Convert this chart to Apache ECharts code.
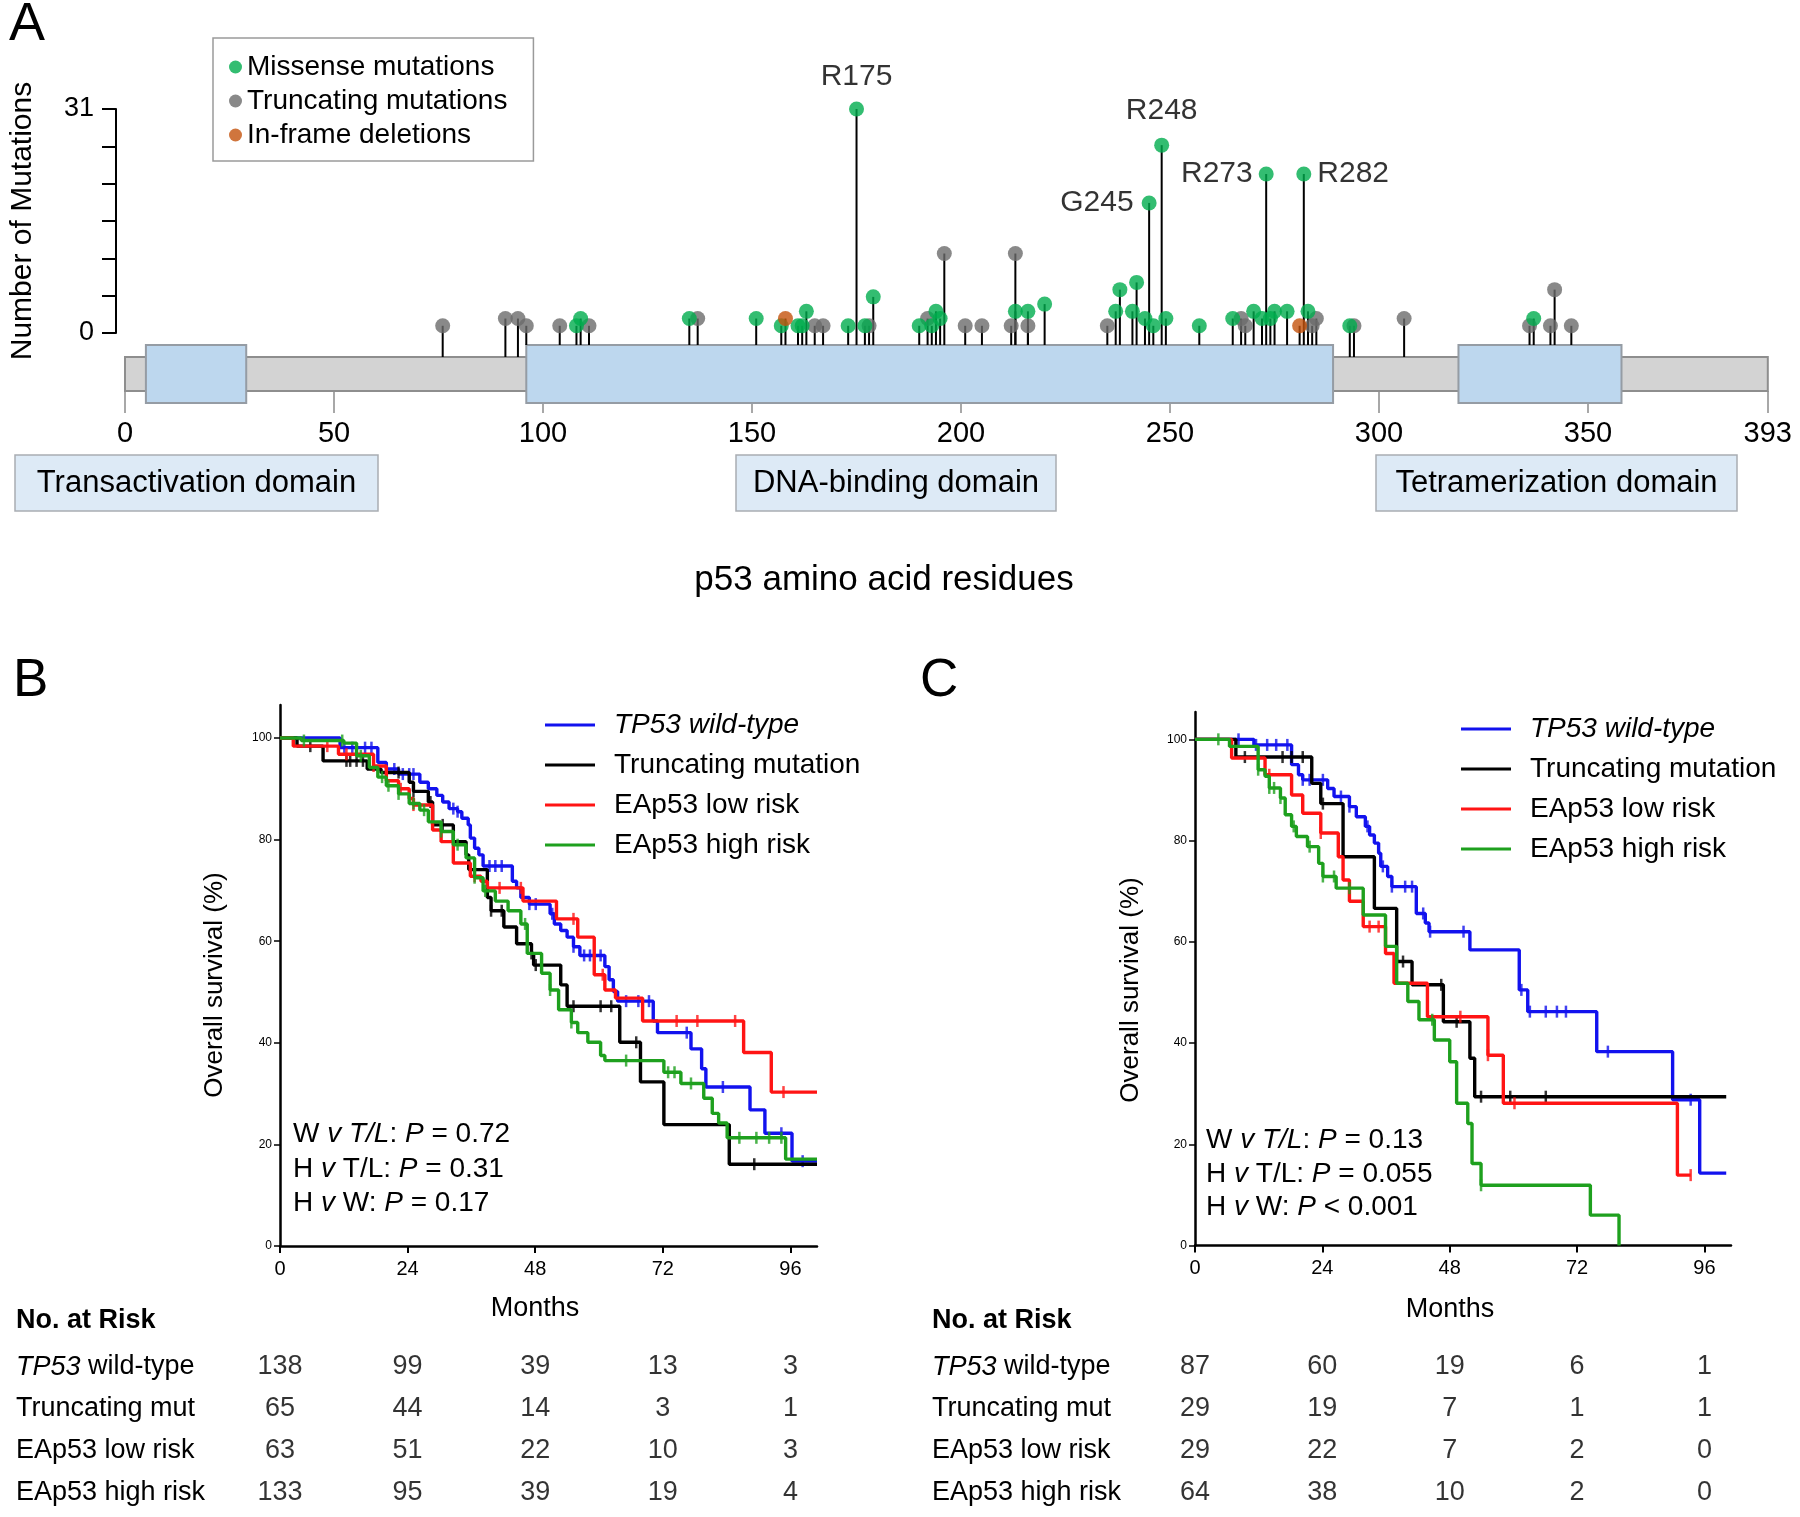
<!DOCTYPE html>
<html>
<head>
<meta charset="utf-8">
<title>TP53 mutations and overall survival</title>
<script src="https://cdn.jsdelivr.net/npm/echarts@6/dist/echarts.min.js"></script>
<style>
  html, body { margin: 0; padding: 0; background: #fff; }
  #chart { width: 1800px; height: 1517px; }
</style>
</head>
<body>
<div id="chart"></div>
<script>
// ---------- panel A: p53 lollipop ----------
const proteinLength = 393;
const domainStarts = [5, 96, 319];
const domainEnds = [29, 289, 358];
const residueTicks = [0, 50, 100, 150, 200, 250, 300, 350, 393];
const countTicks = [0, 31];

// [residue, number of mutations]
const missense = [
  [108, 1], [109, 2], [135, 2], [151, 2], [157, 1], [161, 1], [162, 1], [163, 3],
  [173, 1], [175, 31], [177, 1], [179, 5], [190, 1], [193, 1], [194, 3], [195, 2],
  [213, 3], [216, 3], [220, 4], [237, 3], [238, 6], [241, 3], [242, 7], [244, 2],
  [245, 18], [246, 1], [248, 26], [249, 2], [257, 1], [265, 2], [270, 3], [272, 2],
  [273, 22], [274, 2], [275, 3], [278, 3], [282, 22], [283, 3], [293, 1], [337, 2]
];
const truncating = [
  [76, 1], [91, 2], [94, 2], [96, 1], [104, 1], [111, 1], [137, 2], [165, 1],
  [167, 1], [178, 1], [192, 2], [196, 11], [201, 1], [205, 1], [212, 1], [213, 11],
  [216, 1], [235, 1], [267, 2], [268, 1], [284, 1], [285, 2], [294, 1], [306, 2],
  [336, 1], [341, 1], [342, 6], [346, 1]
];
const inframe = [[158, 2], [281, 1]];
const hotspotResidues = [175, 248, 245, 273, 282];
const hotspotNames = ['R175', 'R248', 'G245', 'R273', 'R282'];

// ---------- panels B and C: Kaplan-Meier ----------
const groupNames = ['TP53 wild-type', 'Truncating mutation', 'EAp53 low risk', 'EAp53 high risk'];
const monthTicks = [0, 24, 48, 72, 96];
const survTicks = [0, 20, 40, 60, 80, 100];

const bWildTime = [0, 11.3, 18.4, 20, 22.3, 26.3, 27.9, 29.5, 30.6, 31.8, 33.4, 34.2, 35.4, 35.8, 36.6, 37.4, 38.2, 43.7, 44.5, 45.3, 46.9, 50.8, 51.6, 52.8, 54, 55.2, 56.4, 61.1, 61.9, 62.7, 63.5, 70.2, 71, 77.3, 79.3, 80.1, 88.4, 91.2, 96.3, 101];
const bWildSurv = [100, 98.1, 95.2, 93.9, 92.9, 91.3, 90, 88.7, 87.4, 86.1, 85.5, 84.2, 82.9, 80.3, 78.3, 77, 74.8, 71.8, 70.5, 68.6, 67.3, 65.4, 63.4, 62.1, 60.8, 58.9, 57.2, 55, 52.4, 50.1, 48.2, 44.3, 42, 38.8, 34.9, 31.3, 26.8, 22.2, 16.7, 16.7];
const bWildCens = [12.1, 13.6, 16, 17.2, 21.5, 23.1, 24.3, 25.1, 32.6, 33.4, 39.4, 40.5, 41.7, 46.9, 48.1, 51.2, 55.2, 57.2, 58.3, 60.3, 65.1, 67.4, 69.4, 76.5, 83.3, 94.3, 98.3];

const bTruncTime = [0, 3.2, 8.1, 16.4, 19, 24.3, 25.1, 27.9, 28.7, 32.6, 35, 35.5, 39, 39.7, 42.1, 44.5, 47.3, 47.7, 52.8, 54, 63.9, 67.8, 72.2, 84.5, 101];
const bTruncSurv = [100, 98.4, 95.5, 93.9, 93.2, 91.3, 89.5, 87.4, 82.9, 79.6, 77, 74.1, 68.6, 66, 62.8, 59.5, 57.6, 55.3, 51.4, 47.2, 40.1, 32.3, 23.9, 16.1, 16.1];
const bTruncCens = [5.7, 12.5, 13.2, 14.4, 15.6, 22.3, 25.1, 28.3, 30.6, 39.7, 41.7, 47.3, 48.1, 55.2, 60.3, 62.3, 67, 89.2];

const bLowTime = [0, 2.5, 11, 17.6, 20, 22.3, 24.3, 25.1, 28.7, 30.3, 32.6, 35.8, 37.8, 39, 45.7, 52, 56, 59.1, 61.1, 63.1, 68.2, 87.2, 92.4, 101];
const bLowSurv = [100, 98.4, 96.8, 94.5, 91.6, 90, 88.1, 86.8, 81.9, 79.6, 75.4, 72.8, 71.8, 70.5, 67.9, 64.4, 60.8, 53.4, 50.4, 48.8, 44.3, 38.1, 30.3, 30.3];
const bLowCens = [8.9, 12.5, 17.6, 22.7, 25.1, 36.6, 41.3, 45.3, 55.2, 60.7, 74.6, 78.5, 85.6, 94.7];

const bHighTime = [0, 4, 12, 14.4, 16.8, 18.4, 20, 22.3, 24.3, 26.3, 27.9, 30.3, 32.6, 35, 36.6, 38.2, 40.5, 42.9, 45.3, 46.5, 49.2, 50.8, 52.4, 54.8, 56, 57.9, 60.3, 61.1, 72.2, 75.4, 79.7, 81.3, 82.5, 84.1, 95.1, 101];
const bHighSurv = [100, 99.5, 99, 96.5, 94.2, 92.3, 90.6, 89, 87.1, 85.8, 83.5, 81.6, 79, 76.4, 72.5, 69.9, 67.9, 66, 63.4, 57.6, 53.7, 50.4, 46.5, 44, 42, 40.1, 37.5, 36.5, 34.2, 32, 29.1, 26.1, 24.2, 21.3, 17.1, 17.1];
const bHighCens = [4.5, 11.7, 15.2, 19.2, 20.4, 22.3, 25.1, 27.1, 30.3, 33.4, 36.6, 38.6, 46.1, 50.8, 54.8, 65.1, 73, 74.2, 77.3, 86.4, 89.6, 92, 94.3];

const cWildTime = [0, 11.1, 18.2, 19.5, 20.3, 25, 26.2, 29.1, 30.4, 32.1, 32.9, 33.8, 34.6, 35, 36.3, 37.1, 41.7, 43.4, 44.1, 51.8, 61.1, 62.7, 75.7, 90, 95.1, 100.1];
const cWildSurv = [100, 98.9, 95, 93, 92, 90.3, 88.7, 86.7, 84.7, 82.8, 81.1, 79.5, 77.5, 74.9, 72.9, 70.9, 65.6, 63.7, 62, 58.4, 50.5, 46.2, 38.3, 28.8, 14.3, 14.3];
const cWildCens = [8.2, 11.5, 13.6, 15.3, 17.4, 20.3, 21.6, 24.1, 27.5, 29.1, 32.5, 35.4, 37.1, 39.6, 40.9, 43, 44.3, 50.6, 61.5, 63.1, 66.1, 68.2, 69.9, 77.8, 93.4];

const cTruncTime = [0, 7.7, 22, 23.7, 27.9, 33.8, 38, 40.9, 46.8, 51.8, 52.7, 100.1];
const cTruncSurv = [100, 96.5, 91.3, 87.3, 76.8, 66.6, 56.1, 51.5, 44.2, 37, 29.4, 29.4];
const cTruncCens = [9.4, 16.5, 18.2, 20.3, 24.1, 39.2, 46.4, 49.3, 53.9, 59.4, 66.1];

const cLowTime = [0, 6.9, 13.2, 18.2, 20.3, 23.7, 27, 27.9, 29.1, 31.7, 35.9, 37.5, 43.8, 55.2, 58.1, 90.9, 93.4];
const cLowSurv = [100, 96.3, 93, 89, 85.4, 81.5, 76.8, 72.2, 68, 63, 57.7, 51.8, 45.2, 37.6, 28.1, 13.9, 13.9];
const cLowCens = [14, 23.7, 32.9, 34.6, 50, 55.2, 60.2, 93.4];

const cHighTime = [0, 6.5, 11.9, 13.2, 14, 16.1, 17, 18.2, 19.1, 21.2, 23.3, 24.1, 26.6, 31.7, 35.9, 38, 40.1, 42.2, 45.1, 48, 49.3, 51.4, 52.2, 53.9, 74.5, 79.9];
const cHighSurv = [100, 98.6, 94, 92.7, 90.4, 88.4, 85.1, 82.8, 80.8, 78.8, 75.5, 72.9, 70.6, 65.3, 59.1, 51.8, 48.2, 44.6, 40.6, 36.3, 28.1, 24.1, 16.2, 11.9, 6, 0];
const cHighCens = [4.4, 11.9, 14, 14.9, 16.1, 18.6, 21.6, 24.1, 26.2, 29.1, 44.7, 53.9];

// ---------- numbers at risk ----------
const riskMonths = [0, 24, 48, 72, 96];
const riskGroups = ['TP53 wild-type', 'Truncating mut', 'EAp53 low risk', 'EAp53 high risk'];
const bRiskWild = [138, 99, 39, 13, 3];
const bRiskTrunc = [65, 44, 14, 3, 1];
const bRiskLow = [63, 51, 22, 10, 3];
const bRiskHigh = [133, 95, 39, 19, 4];
const cRiskWild = [87, 60, 19, 6, 1];
const cRiskTrunc = [29, 19, 7, 1, 1];
const cRiskLow = [29, 22, 7, 2, 0];
const cRiskHigh = [64, 38, 10, 2, 0];

// ---------- styling ----------
const FONT = '"Liberation Sans", Arial, Helvetica, sans-serif';
const BLUE = '#1212ee', RED = '#ff1414', GREEN = '#1ea01e', BLACK = '#000000';
const kmColors = [BLUE, BLACK, RED, GREEN];
const MISSENSE = '#00ad4e', TRUNC = '#6b6b6b', INFRAME = '#c4520c';

const chart = echarts.init(document.getElementById('chart'));

function inDomain(r) {
  return domainStarts.some((s, i) => r >= s && r <= domainEnds[i]);
}

function survAt(times, survs, t) {
  let s = survs[0];
  for (let i = 0; i < times.length; i++) if (times[i] <= t) s = survs[i];
  return s;
}

function kmSeries(grid, k, times, survs, cens) {
  const color = kmColors[k];
  return [
    {
      type: 'line', name: groupNames[k], xAxisIndex: grid, yAxisIndex: grid,
      step: 'end', showSymbol: false, symbol: 'none', clip: false, z: 3 + k,
      data: times.map((t, i) => [t, survs[i]]),
      lineStyle: { color, width: 3.4 }, itemStyle: { color }
    },
    {
      type: 'scatter', xAxisIndex: grid, yAxisIndex: grid, symbol: 'rect',
      symbolSize: [2.5, 12], z: 3 + k, silent: true,
      itemStyle: { color },
      data: cens.map(t => [t, survAt(times, survs, t)])
    }
  ];
}

function riskSeries(grid, rows) {
  const data = [];
  rows.forEach((row, r) => row.forEach((n, k) => data.push([riskMonths[k], r, n])));
  return {
    type: 'scatter', xAxisIndex: grid, yAxisIndex: grid, symbolSize: 1,
    itemStyle: { color: 'rgba(0,0,0,0)' }, silent: true,
    label: { show: true, position: 'inside', formatter: p => String(p.value[2]),
             fontSize: 27, fontFamily: FONT, color: '#000' },
    data
  };
}

const hotspotPlace = { R175: ['top', 10], R248: ['top', 12], G245: ['left', 8], R273: ['left', 6], R282: ['right', 6] };
const missenseData = missense.map(([r, c]) => {
  const k = hotspotResidues.indexOf(r);
  if (k < 0) return [r, c];
  const name = hotspotNames[k];
  return {
    value: [r, c],
    label: { show: true, formatter: name, position: hotspotPlace[name][0], distance: hotspotPlace[name][1],
             fontSize: 30, fontFamily: FONT, color: '#000' }
  };
});
const allMutations = truncating.concat(missense, inframe);

const kmGridB = { left: 280, top: 705, width: 537, height: 541 };
const kmGridC = { left: 1195, top: 712, width: 536, height: 533.5 };

function kmXAxis(g) {
  return {
    gridIndex: g, type: 'value', min: 0, max: 101,
    axisLine: { show: true, onZero: false, lineStyle: { color: '#000', width: 2.5 } },
    axisTick: { show: true, length: 7, customValues: monthTicks, lineStyle: { color: '#000', width: 2 } },
    axisLabel: { customValues: monthTicks, fontSize: 20, margin: 13, color: '#000', fontFamily: FONT },
    splitLine: { show: false }
  };
}
function kmYAxis(g, yMax) {
  return {
    gridIndex: g, type: 'value', min: 0, max: yMax,
    axisLine: { show: true, onZero: false, lineStyle: { color: '#000', width: 2.5 } },
    axisTick: { show: true, length: 6, customValues: survTicks, lineStyle: { color: '#000', width: 1.5 } },
    axisLabel: { customValues: survTicks, fontSize: 12, margin: 8, color: '#000', fontFamily: FONT },
    splitLine: { show: false }
  };
}
function riskXAxis(g) {
  return { gridIndex: g, type: 'value', min: 0, max: 101, show: false };
}
function riskYAxis(g, margin) {
  return {
    gridIndex: g, type: 'category', data: riskGroups, inverse: true,
    axisLine: { show: false }, axisTick: { show: false },
    axisLabel: {
      margin, align: 'left', fontSize: 27, color: '#000', fontFamily: FONT,
      formatter: v => v === 'TP53 wild-type' ? '{i|TP53} wild-type' : v,
      rich: { i: { fontStyle: 'italic', fontSize: 27, fontFamily: FONT, color: '#000' } }
    }
  };
}

function kmLegend(left, top) {
  return {
    orient: 'vertical', left, top, padding: 0, icon: 'rect', itemWidth: 50, itemHeight: 3, itemGap: 10,
    selectedMode: false, data: groupNames,
    formatter: n => n === 'TP53 wild-type' ? '{i|TP53 wild-type}' : n,
    textStyle: {
      fontSize: 28, lineHeight: 30, fontFamily: FONT, color: '#000', padding: [0, 0, 0, 14],
      rich: { i: { fontStyle: 'italic', fontSize: 28, fontFamily: FONT, color: '#000' } }
    }
  };
}

function txt(x, y, text, size, extra) {
  return { type: 'text', x, y, silent: true,
           style: Object.assign({ text, fontSize: size, fontFamily: FONT, fill: '#000',
                                  align: 'left', verticalAlign: 'middle' }, extra || {}) };
}
const pRich = {
  n: { fontSize: 28, fontFamily: FONT, fill: '#000' },
  i: { fontSize: 28, fontFamily: FONT, fill: '#000', fontStyle: 'italic' }
};
function pText(x, y, text) {
  return { type: 'text', x, y, silent: true,
           style: { text, rich: pRich, fontSize: 28, fontFamily: FONT, fill: '#000', verticalAlign: 'middle' } };
}
function domainBox(x, w, label) {
  return [
    { type: 'rect', silent: true, shape: { x, y: 455, width: w, height: 56 },
      style: { fill: '#ddeaf6', stroke: '#a9adb2', lineWidth: 1.5 } },
    txt(x + w / 2, 483, label, 31, { align: 'center' })
  ];
}

const option = {
  animation: false,
  backgroundColor: '#fff',
  textStyle: { fontFamily: FONT },
  grid: [
    { left: 122.8, top: 109, width: 1645, height: 224 },
    kmGridB,
    kmGridC,
    { left: 280, top: 1346, width: 537, height: 168 },
    { left: 1195, top: 1346, width: 536, height: 168 }
  ],
  legend: [
    {
      orient: 'vertical', left: 213, top: 38, icon: 'circle', itemWidth: 13, itemHeight: 13, itemGap: 0,
      padding: [12, 26, 9, 16], borderColor: '#9a9a9a', borderWidth: 1.5, selectedMode: false,
      data: ['Missense mutations', 'Truncating mutations', 'In-frame deletions'],
      textStyle: { fontSize: 28, lineHeight: 34, fontFamily: FONT, color: '#000' }
    },
    kmLegend(545, 710),
    kmLegend(1461, 714)
  ],
  xAxis: [
    {
      gridIndex: 0, type: 'value', min: 0, max: proteinLength, offset: 58,
      axisLine: { show: false, onZero: false },
      axisTick: { show: true, length: 22, customValues: residueTicks, lineStyle: { color: '#8c8c8c', width: 1.5 } },
      axisLabel: { customValues: residueTicks, fontSize: 29, margin: 28, color: '#000', fontFamily: FONT },
      splitLine: { show: false }
    },
    kmXAxis(1), kmXAxis(2), riskXAxis(3), riskXAxis(4)
  ],
  yAxis: [
    {
      gridIndex: 0, type: 'value', min: 0, max: 31, offset: 9,
      axisLine: { show: true, onZero: false, lineStyle: { color: '#000', width: 2 } },
      axisTick: { show: true, length: 14, customValues: [0, 1, 2, 3, 4, 5, 6].map(k => k * 31 / 6),
                  lineStyle: { color: '#000', width: 2 } },
      axisLabel: { customValues: countTicks, fontSize: 27, margin: 22, color: '#000', fontFamily: FONT },
      splitLine: { show: false },
      name: 'Number of Mutations', nameLocation: 'middle', nameGap: 78,
      nameTextStyle: { fontSize: 30, color: '#000', fontFamily: FONT }
    },
    kmYAxis(1, 106.5), kmYAxis(2, 105.4), riskYAxis(3, 264), riskYAxis(4, 263)
  ],
  series: [
    {
      type: 'custom', name: 'backbone', xAxisIndex: 0, yAxisIndex: 0, clip: false, silent: true, z: 1,
      data: [[0, proteinLength]],
      encode: { x: [0, 1] },
      renderItem: (params, api) => {
        const a = api.coord([api.value(0), 0]);
        const b = api.coord([api.value(1), 0]);
        return { type: 'rect', shape: { x: a[0], y: a[1] + 24, width: b[0] - a[0], height: 34 },
                 style: { fill: '#d3d3d3', stroke: '#8e8e8e', lineWidth: 2 } };
      }
    },
    {
      type: 'custom', name: 'domains', xAxisIndex: 0, yAxisIndex: 0, clip: false, silent: true, z: 2,
      data: domainStarts.map((s, i) => [s, domainEnds[i]]),
      encode: { x: [0, 1] },
      renderItem: (params, api) => {
        const a = api.coord([api.value(0), 0]);
        const b = api.coord([api.value(1), 0]);
        return { type: 'rect', shape: { x: a[0], y: a[1] + 12, width: b[0] - a[0], height: 58 },
                 style: { fill: '#bdd7ee', stroke: '#959ca4', lineWidth: 2 } };
      }
    },
    {
      type: 'custom', name: 'stems', xAxisIndex: 0, yAxisIndex: 0, clip: false, silent: true, z: 3,
      data: allMutations,
      renderItem: (params, api) => {
        const r = api.value(0);
        const top = api.coord([r, api.value(1)]);
        const base = api.coord([r, 0])[1] + (inDomain(r) ? 12 : 24);
        return { type: 'line', shape: { x1: top[0], y1: base, x2: top[0], y2: top[1] },
                 style: { stroke: '#000', lineWidth: 2 } };
      }
    },
    { type: 'scatter', name: 'Truncating mutations', xAxisIndex: 0, yAxisIndex: 0, symbolSize: 15, z: 4,
      itemStyle: { color: TRUNC }, data: truncating },
    { type: 'scatter', name: 'Missense mutations', xAxisIndex: 0, yAxisIndex: 0, symbolSize: 15, z: 5,
      itemStyle: { color: MISSENSE }, data: missenseData },
    { type: 'scatter', name: 'In-frame deletions', xAxisIndex: 0, yAxisIndex: 0, symbolSize: 15, z: 6,
      itemStyle: { color: INFRAME }, data: inframe },

    ...kmSeries(1, 0, bWildTime, bWildSurv, bWildCens),
    ...kmSeries(1, 1, bTruncTime, bTruncSurv, bTruncCens),
    ...kmSeries(1, 2, bLowTime, bLowSurv, bLowCens),
    ...kmSeries(1, 3, bHighTime, bHighSurv, bHighCens),
    ...kmSeries(2, 0, cWildTime, cWildSurv, cWildCens),
    ...kmSeries(2, 1, cTruncTime, cTruncSurv, cTruncCens),
    ...kmSeries(2, 2, cLowTime, cLowSurv, cLowCens),
    ...kmSeries(2, 3, cHighTime, cHighSurv, cHighCens),

    riskSeries(3, [bRiskWild, bRiskTrunc, bRiskLow, bRiskHigh]),
    riskSeries(4, [cRiskWild, cRiskTrunc, cRiskLow, cRiskHigh])
  ],
  graphic: {
    elements: [
      txt(9, 25, 'A', 54),
      txt(13, 681, 'B', 53),
      txt(920, 681, 'C', 53),
      ...domainBox(15, 363, 'Transactivation domain'),
      ...domainBox(736, 320, 'DNA-binding domain'),
      ...domainBox(1376, 361, 'Tetramerization domain'),
      txt(884, 580, 'p53 amino acid residues', 35, { align: 'center' }),

      Object.assign(txt(215, 985, 'Overall survival (%)', 26, { align: 'center' }), { rotation: Math.PI / 2 }),
      Object.assign(txt(1131, 990, 'Overall survival (%)', 26, { align: 'center' }), { rotation: Math.PI / 2 }),
      txt(535, 1309, 'Months', 27, { align: 'center' }),
      txt(1450, 1310, 'Months', 27, { align: 'center' }),

      pText(293, 1134, '{n|W }{i|v T/L}{n|: }{i|P}{n| = 0.72}'),
      pText(293, 1169, '{n|H }{i|v}{n| T/L: }{i|P}{n| = 0.31}'),
      pText(293, 1203, '{n|H }{i|v}{n| W: }{i|P}{n| = 0.17}'),
      pText(1206, 1140, '{n|W }{i|v T/L}{n|: }{i|P}{n| = 0.13}'),
      pText(1206, 1174, '{n|H }{i|v}{n| T/L: }{i|P}{n| = 0.055}'),
      pText(1206, 1207, '{n|H }{i|v}{n| W: }{i|P}{n| < 0.001}'),

      txt(16, 1321, 'No. at Risk', 27, { fontWeight: 'bold' }),
      txt(932, 1321, 'No. at Risk', 27, { fontWeight: 'bold' })
    ]
  }
};

chart.setOption(option);
</script>
</body>
</html>
